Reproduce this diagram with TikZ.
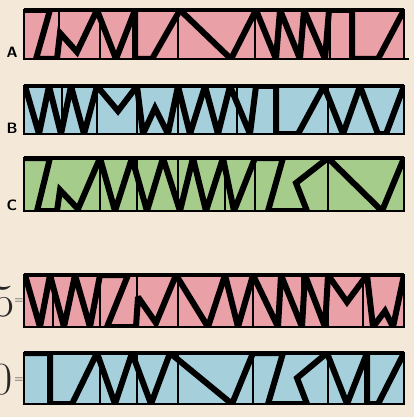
\documentclass[tikz,border=0pt]{standalone}
\usepackage{xcolor}
\usepackage{tikz}
\usetikzlibrary{positioning}
\definecolor{paper}{HTML}{F4E8D8}
\definecolor{pinkc}{HTML}{E9A0A7}
\definecolor{bluec}{HTML}{A5CFDB}
\definecolor{greenc}{HTML}{A6CC8C}

\begin{document}
\begin{tikzpicture}[x=1pt,y=-1pt,
  zig/.style={line width=6pt,line join=miter,miter limit=3,draw=black},
  frame/.style={line width=2pt,draw=black},
  topline/.style={line width=3.4pt,draw=black},
  divider/.style={line width=1.2pt,draw=black},
  lbl/.style={font=\sffamily\bfseries\fontsize{15}{15}\selectfont,inner sep=0pt},
  hand/.style={font=\fontsize{46}{46}\selectfont,inner sep=0pt,text=black!85}
]
\fill[paper] (0,0) rectangle (414,417);
\useasboundingbox (0,0) rectangle (414,417);

% strip A
\fill[pinkc] (24,10) rectangle (404,59);
\foreach \x in {59,100,137,178,255,330}
  \draw[divider] (\x,10) -- (\x,59);
\begin{scope}
\clip (24,10) rectangle (404,59);
\draw[zig] (24,10) -- (50,10) -- (36,59) -- (57,59) -- (60,33) -- (77,52)
  -- (97,10) -- (116,59) -- (135,10) -- (135,59) -- (152,59) -- (180,10)
  -- (231,59) -- (256,10) -- (276,59) -- (280,10) -- (300,59) -- (304,10)
  -- (325,59) -- (329,10) -- (352,10) -- (352,59) -- (378,59) -- (404,10);
\end{scope}
\draw[frame] (24,10) rectangle (404,59);
\draw[frame] (404,59) -- (409,59);
\draw[topline] (24,10) -- (404,10);
\node[lbl] (labA) at (12,52) {A};

% strip B
\fill[bluec] (24,86) rectangle (404,134);
\foreach \x in {62,97,137,178,237,328}
  \draw[divider] (\x,86) -- (\x,134);
\begin{scope}
\clip (24,86) rectangle (404,134);
\draw[zig] (25,86) -- (39,134) -- (49,86) -- (61,134) -- (71,86) -- (84,134)
  -- (97,86) -- (118,111) -- (137,86) -- (143,134) -- (155,108) -- (168,134)
  -- (178,86) -- (190,134) -- (205,86) -- (218,134) -- (230,86) -- (250,134)
  -- (256,86) -- (276,86) -- (276,134) -- (298,134) -- (324,86) -- (343,134)
  -- (360,86) -- (378,134) -- (386,134) -- (404,86);
\end{scope}
\draw[frame] (24,86) rectangle (404,134);
\draw[topline] (24,86) -- (404,86);
\node[lbl] (labB) at (12,128) {B};

% strip C
\fill[greenc] (24,158) rectangle (404,211);
\foreach \x in {100,137,178,225,255,328}
  \draw[divider] (\x,158) -- (\x,211);
\begin{scope}
\clip (24,158) rectangle (404,211);
\draw[zig] (24,158) -- (50,158) -- (37,211) -- (57,211) -- (60,190) -- (78,209)
  -- (100,158) -- (115,211) -- (132,158) -- (147,211) -- (163,158) -- (180,211)
  -- (193,158) -- (206,211) -- (223,158) -- (234,211) -- (255,158) -- (283,158)
  -- (268,211) -- (307,211) -- (296,183) -- (328,158) -- (382,211) -- (404,158);
\end{scope}
\draw[frame] (24,158) rectangle (404,211);
\draw[topline] (24,158) -- (404,158);
\node[lbl] (labC) at (12,205) {C};

% strip D
\fill[pinkc] (24,275) rectangle (404,327);
\foreach \x in {53,100,137,178,253,302,328,363}
  \draw[divider] (\x,275) -- (\x,327);
\begin{scope}
\clip (24,275) rectangle (404,327);
\draw[zig] (25,275) -- (40,327) -- (50,275) -- (64,327) -- (75,275) -- (90,327)
  -- (100,275) -- (128,275) -- (107,327) -- (136,327) -- (138,297) -- (156,323)
  -- (176,275) -- (208,327) -- (225,275) -- (238,327) -- (253,275) -- (278,327)
  -- (281,275) -- (302,327) -- (305,275) -- (325,327) -- (328,275) -- (347,302)
  -- (367,275) -- (373,327) -- (385,311) -- (393,327) -- (404,275);
\end{scope}
\draw[frame] (24,275) rectangle (404,327);
\draw[topline] (24,275) -- (404,275);
\node[hand,anchor=east] (sym5) at (15,302) {5};
\node[font=\large,inner sep=0pt] (eq5) at (19,301) {=};

% strip E
\fill[bluec] (24,353) rectangle (404,404);
\foreach \x in {100,137,178,253,328}
  \draw[divider] (\x,353) -- (\x,404);
\begin{scope}
\clip (24,353) rectangle (404,404);
\draw[zig] (24,353) -- (50,353) -- (50,404) -- (72,404) -- (97,353) -- (115,404)
  -- (132,353) -- (151,404) -- (170,353) -- (232,404) -- (253,353) -- (283,353)
  -- (268,404) -- (307,404) -- (297,378) -- (327,353) -- (347,404) -- (367,353)
  -- (367,404) -- (378,404) -- (404,353);
\end{scope}
\draw[frame] (24,353) rectangle (404,404);
\draw[topline] (24,353) -- (404,353);
\node[hand,anchor=east] (sym0) at (13,380) {0};
\node[font=\large,inner sep=0pt] (eq0) at (19,380) {=};
\end{tikzpicture}
\end{document}
